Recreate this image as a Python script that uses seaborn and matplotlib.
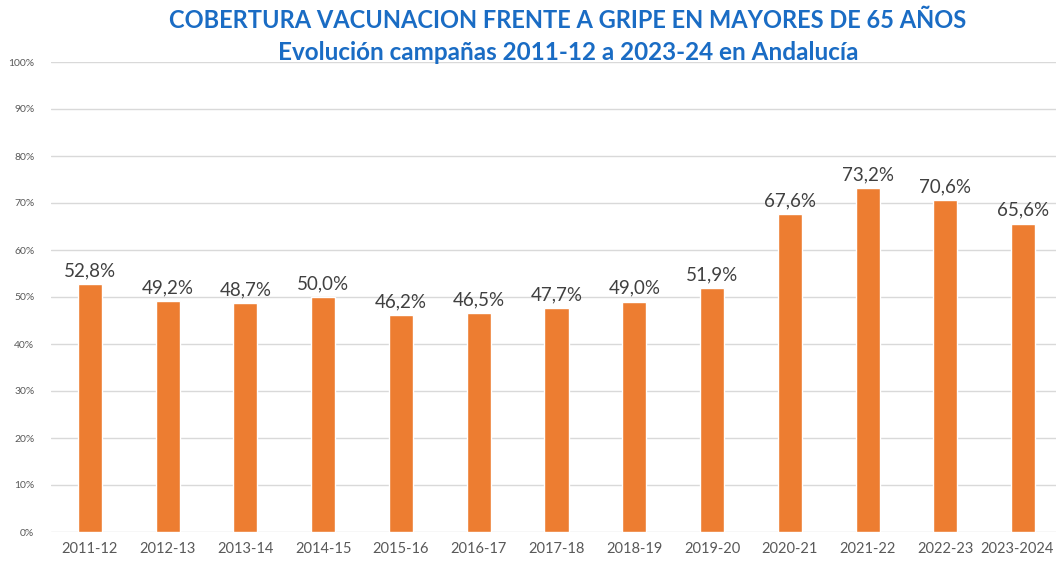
import matplotlib
matplotlib.use("Agg")
import matplotlib.pyplot as plt
import matplotlib.transforms as mtransforms
import seaborn as sns
import pandas as pd
from matplotlib.ticker import FuncFormatter, MultipleLocator

# datos
campanas = ["2011-12", "2012-13", "2013-14", "2014-15", "2015-16", "2016-17", "2017-18",
            "2018-19", "2019-20", "2020-21", "2021-22", "2022-23", "2023-2024"]
cobertura = [52.8, 49.2, 48.7, 50.0, 46.2, 46.5, 47.7, 49.0, 51.9, 67.6, 73.2, 70.6, 65.6]

df = pd.DataFrame({"campana": campanas, "cobertura": cobertura})

sns.set_theme(style="white")
plt.rcParams["font.family"] = ["Lato", "DejaVu Sans"]

fig = plt.figure(figsize=(10.56, 5.66), dpi=100)
ax = fig.add_axes([51 / 1056, 1 - 532 / 566, 1011 / 1056, 470 / 566])

sns.barplot(data=df, x="campana", y="cobertura", color="#ED7D31", width=0.31,
            saturation=1, ax=ax, zorder=3)

ax.set_ylim(0, 100)
ax.set_xlim(-0.5, len(campanas) - 0.5)
ax.yaxis.set_major_locator(MultipleLocator(10))
ax.yaxis.set_major_formatter(FuncFormatter(lambda v, p: f"{v:.0f}%"))
ax.grid(axis="y", color="#D9D9D9", linewidth=1, zorder=0)
for s in ax.spines.values():
    s.set_visible(False)
ax.set_xlabel("")
ax.set_ylabel("")
ax.tick_params(axis="y", labelsize=7.5, colors="#595959", length=0, pad=12)
ax.tick_params(axis="x", labelsize=10.5, colors="#595959", length=0, pad=7)

# la última etiqueta se sale del borde: se desplaza un poco a la izquierda
last = ax.get_xticklabels()[-1]
last.set_transform(last.get_transform() + mtransforms.ScaledTranslation(-6 / 100, 0, fig.dpi_scale_trans))

for i, v in enumerate(cobertura):
    ax.annotate(f"{v:.1f}%".replace(".", ","), (i, v), xytext=(0, 3.5),
                textcoords="offset points", ha="center", va="bottom",
                fontsize=13.5, color="#404040")

fig.text(568 / 1056, 1 - 20 / 566, "COBERTURA VACUNACION FRENTE A GRIPE EN MAYORES DE 65 AÑOS",
         ha="center", va="center", fontsize=17, fontweight="bold", color="#1A6CC4")
fig.text(568 / 1056, 1 - 52 / 566, "Evolución campañas 2011-12 a 2023-24 en Andalucía",
         ha="center", va="center", fontsize=17.5, fontweight="bold", color="#1A6CC4")

fig.savefig("out.png", dpi=100)
